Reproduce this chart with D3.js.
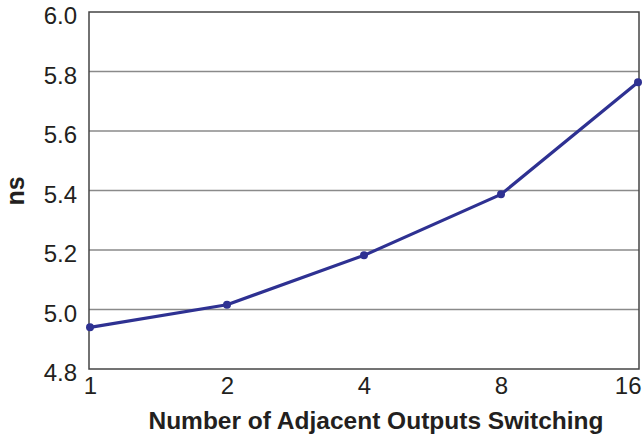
<!DOCTYPE html>
<html>
<head>
<meta charset="utf-8">
<script src="https://cdn.jsdelivr.net/npm/d3@7"></script>
<style>
  html, body { margin: 0; padding: 0; background: #fff; }
  svg { display: block; font-family: "Liberation Sans", Arial, sans-serif; }
</style>
</head>
<body>
<svg id="chart" width="642" height="438"></svg>
<script>
// Propagation delay vs. number of simultaneously switching adjacent outputs
const categories = ["1", "2", "4", "8", "16"];
const delayNs = [4.94, 5.016, 5.182, 5.387, 5.764];
const yTicks = [4.8, 5.0, 5.2, 5.4, 5.6, 5.8, 6.0];

const svg = d3.select("#chart");
const plot = { left: 89, right: 639, top: 12, bottom: 369 };

const x = d3.scalePoint().domain(categories).range([plot.left + 1, plot.right - 1]);
const y = d3.scaleLinear().domain([4.8, 6.0]).range([plot.bottom, plot.top]);

// horizontal gridlines
svg.append("g")
  .selectAll("line")
  .data(yTicks.slice(1, -1))
  .join("line")
  .attr("x1", plot.left).attr("x2", plot.right)
  .attr("y1", d => y(d)).attr("y2", d => y(d))
  .attr("stroke", "#8a8a8a").attr("stroke-width", 1.5);

// plot frame
svg.append("rect")
  .attr("x", plot.left).attr("y", plot.top)
  .attr("width", plot.right - plot.left).attr("height", plot.bottom - plot.top)
  .attr("fill", "none").attr("stroke", "#444").attr("stroke-width", 1.5);

// y axis labels, nudged slightly below their gridlines
const yAxis = svg.append("g")
  .attr("transform", `translate(${plot.left},4)`)
  .call(d3.axisLeft(y).tickValues(yTicks).tickFormat(d3.format(".1f")).tickSize(0).tickPadding(12));
yAxis.select(".domain").remove();
yAxis.selectAll("text").attr("font-size", 24).attr("fill", "#231f20")
  .attr("font-family", "Liberation Sans, Arial, sans-serif");

// x axis labels
const xAxis = svg.append("g")
  .attr("transform", `translate(0,${plot.bottom})`)
  .call(d3.axisBottom(x).tickSize(0).tickPadding(8));
xAxis.select(".domain").remove();
xAxis.selectAll("text").attr("font-size", 24).attr("fill", "#231f20")
  .attr("font-family", "Liberation Sans, Arial, sans-serif")
  .filter(d => d === categories[categories.length - 1])
  .attr("text-anchor", "end").attr("dx", 3);

// axis titles
svg.append("text")
  .attr("x", 376).attr("y", 429)
  .attr("text-anchor", "middle")
  .attr("font-size", 24.5).attr("font-weight", "bold").attr("fill", "#231f20")
  .text("Number of Adjacent Outputs Switching");

svg.append("text")
  .attr("transform", "translate(24,191) rotate(-90)")
  .attr("text-anchor", "middle")
  .attr("font-size", 25).attr("font-weight", "bold").attr("fill", "#231f20")
  .text("ns");

// data line and markers
const pts = categories.map((c, i) => ({ c, v: delayNs[i] }));
svg.append("path")
  .datum(pts)
  .attr("fill", "none")
  .attr("stroke", "#2e3192")
  .attr("stroke-width", 3.2)
  .attr("stroke-linejoin", "round")
  .attr("d", d3.line().x(d => x(d.c)).y(d => y(d.v)));

svg.append("g")
  .selectAll("circle")
  .data(pts)
  .join("circle")
  .attr("cx", d => x(d.c)).attr("cy", d => y(d.v))
  .attr("r", 4)
  .attr("fill", "#2e3192");
</script>
</body>
</html>
